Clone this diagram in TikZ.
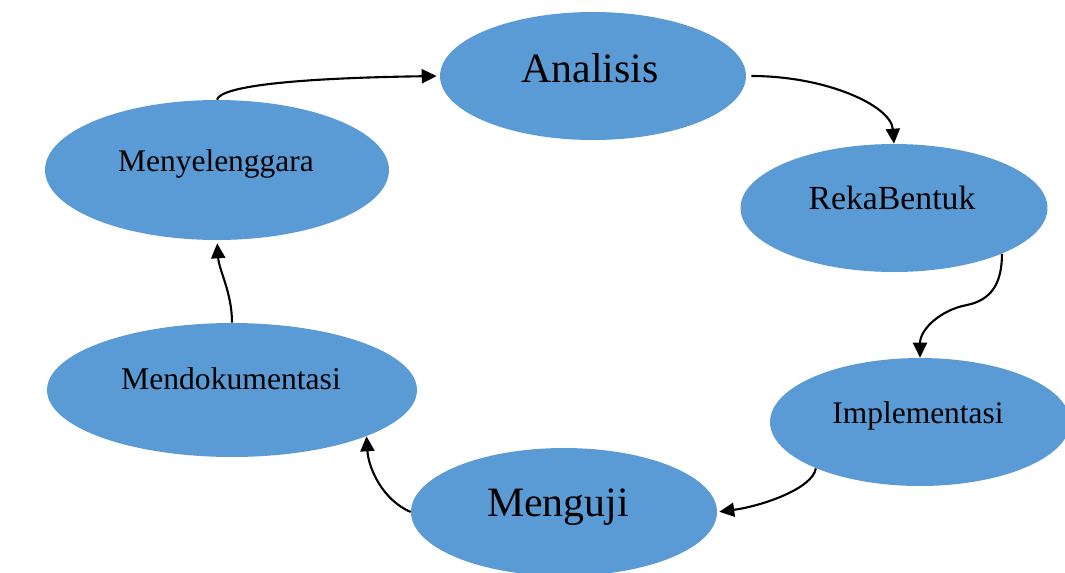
\documentclass[tikz,border=0pt]{standalone}
\usepackage{fontspec}
\setmainfont{Liberation Serif}
\usetikzlibrary{shapes.geometric,arrows.meta}
\definecolor{ovalblue}{HTML}{5B9BD5}
\begin{document}
\begin{tikzpicture}[x=0.02cm,y=-0.02cm,
  oval/.style={ellipse, fill=ovalblue, draw=none, inner sep=0pt},
  lbl/.style={anchor=base, inner sep=0pt, text=black},
  flow/.style={-{Triangle[length=8.5pt,width=8pt]}, line width=1.2pt, black}]
\useasboundingbox (0,0) rectangle (1065,572);
\clip (0,0) rectangle (1065,572);
% ovals
\node[oval, minimum width=6.12cm, minimum height=2.56cm] (ana) at (593,76) {};
\node[oval, minimum width=6.14cm, minimum height=2.56cm] (rek) at (894,208) {};
\node[oval, minimum width=6.0cm, minimum height=2.56cm] (imp) at (920,422) {};
\node[oval, minimum width=6.12cm, minimum height=2.56cm] (mgu) at (564,512) {};
\node[oval, minimum width=7.4cm, minimum height=2.68cm] (mdk) at (232,390) {};
\node[oval, minimum width=6.88cm, minimum height=2.8cm] (mny) at (217,170) {};
% labels
\node[lbl, font=\fontsize{23.8}{28}\selectfont] (tana) at (590,82) {Analisis};
\node[lbl, font=\fontsize{19.2}{23}\selectfont] (trek) at (892,209) {RekaBentuk};
\node[lbl, font=\fontsize{17.9}{22}\selectfont] (timp) at (918,423) {Implementasi};
\node[lbl, font=\fontsize{23.8}{28}\selectfont] (tmgu) at (558,516) {Menguji};
\node[lbl, font=\fontsize{18}{22}\selectfont] (tmdk) at (231,389) {Mendokumentasi};
\node[lbl, font=\fontsize{17.9}{22}\selectfont] (tmny) at (216,171) {Menyelenggara};
% connectors
\coordinate (wv) at (967,305);
\draw[flow, shorten >=0.06cm] (mny.north) .. controls +(4,-14) and +(-140,2) .. (ana.west);
\draw[flow, shorten <=0.1cm] (ana.east) .. controls +(80,0) and +(-3,-38) .. (rek.north);
\draw[flow] (rek.-23) .. controls +(0,30) and +(24,-5) .. (wv) .. controls +(-27,5) and +(0,-28) .. (imp.north);
\draw[flow, shorten >=0.04cm] (imp.204) .. controls +(-3,20) and +(45,-6) .. (mgu.east);
\draw[flow] (mgu.west) .. controls +(-28,-12) and +(2,32) .. (mdk.-19);
\draw[flow, shorten >=0.06cm] (mdk.north) .. controls +(0,-30) and +(2,30) .. (mny.south);
\end{tikzpicture}
\end{document}
